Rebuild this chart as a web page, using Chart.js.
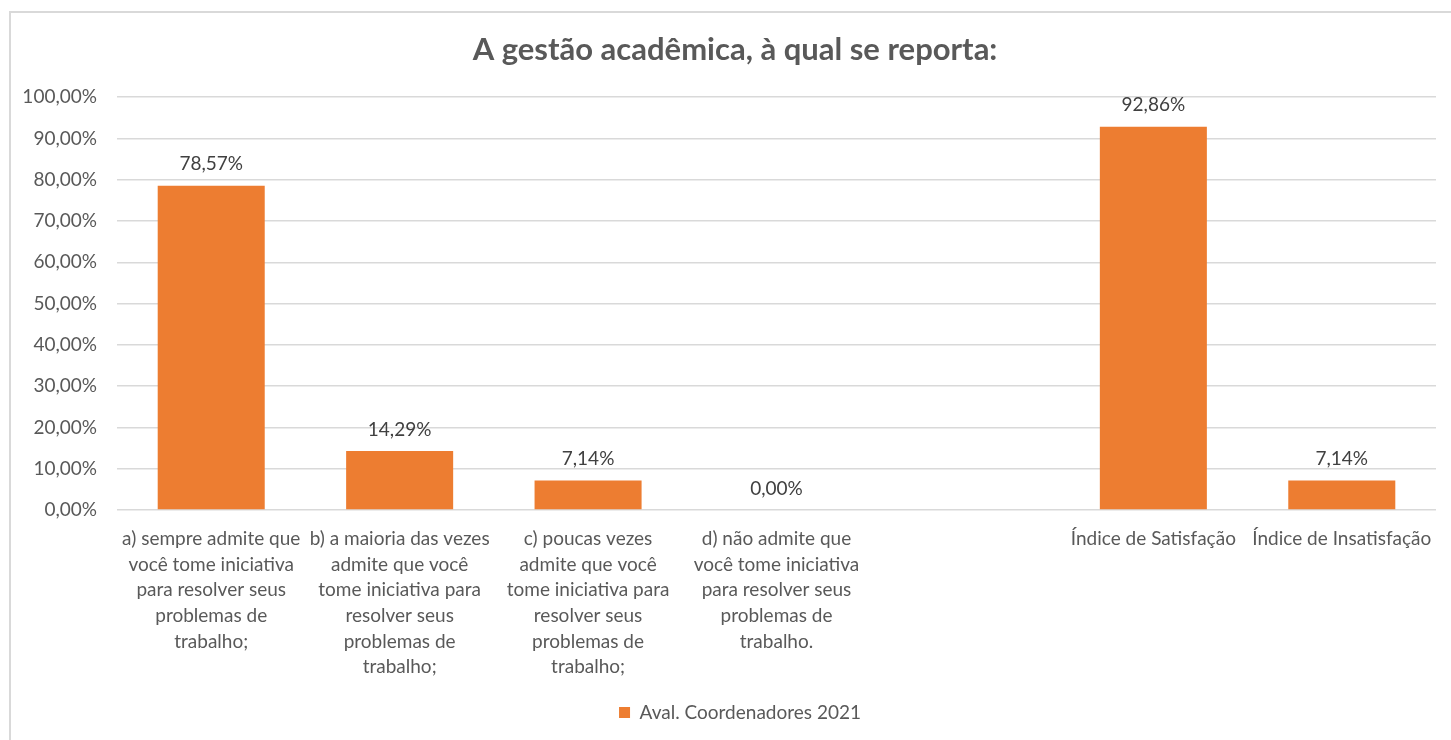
<!DOCTYPE html>
<html lang="pt-BR">
<head>
<meta charset="utf-8">
<title>A gestão acadêmica, à qual se reporta:</title>
<script src="https://cdn.jsdelivr.net/npm/chart.js@4.4.1/dist/chart.umd.min.js"></script>
<style>
    html, body { margin: 0; padding: 0; background: #ffffff; overflow: hidden; }
    #moldura {
        position: absolute; left: 9px; top: 11px; width: 1500px; height: 800px;
        border-left: 2px solid #d9d9d9; border-top: 2px solid #d9d9d9;
    }
    #caixa { position: absolute; left: 0; top: 0; width: 1451px; height: 740px; }
</style>
</head>
<body>
<div id="moldura"></div>
<div id="caixa"><canvas id="graficoBarras"></canvas></div>
<script>
const categorias = [
    ["a) sempre admite que", "você tome iniciativa", "para resolver seus", "problemas de", "trabalho;"],
    ["b) a maioria das vezes", "admite que você", "tome iniciativa para", "resolver seus", "problemas de", "trabalho;"],
    ["c) poucas vezes", "admite que você", "tome iniciativa para", "resolver seus", "problemas de", "trabalho;"],
    ["d) não admite que", "você tome iniciativa", "para resolver seus", "problemas de", "trabalho."],
    "",
    "Índice de Satisfação",
    "Índice de Insatisfação",
];
const valores = [78.57, 14.29, 7.14, 0.0, null, 92.86, 7.14];
const nomeSerie = "Aval. Coordenadores 2021";
const ticksY = [0, 10, 20, 30, 40, 50, 60, 70, 80, 90, 100];

const fonte = "Lato, 'Noto Sans', sans-serif";
const corTexto = "#595959";

function formatarPct(v) {
    return v.toFixed(2).replace(".", ",") + "%";
}

// rotulos em cima das barras
const rotulosBarras = {
    id: "rotulosBarras",
    afterLayout(chart) {
        // titulo e legenda ficam centrados no quadro todo, nao so na area do grafico
        chart.titleBlock.left += 17;
        chart.titleBlock.right += 17;
        chart.legend.left += 22;
        chart.legend.right += 22;
    },
    afterDatasetsDraw(chart) {
        const ctx = chart.ctx;
        ctx.save();
        ctx.font = "19px " + fonte;
        ctx.fillStyle = "#404040";
        ctx.textAlign = "center";
        ctx.textBaseline = "bottom";
        chart.getDatasetMeta(0).data.forEach((barra, i) => {
            const v = valores[i];
            if (v === null) return;
            ctx.fillText(formatarPct(v), barra.x, barra.y - 12);
        });
        ctx.restore();
    },
};

document.addEventListener("DOMContentLoaded", function () {
    const ctx = document.getElementById("graficoBarras").getContext("2d");

    new Chart(ctx, {
        type: "bar",
        data: {
            labels: categorias,
            datasets: [
                {
                    label: nomeSerie,
                    data: valores,
                    backgroundColor: "#ed7d31",
                    categoryPercentage: 1,
                    barPercentage: 0.568,
                },
            ],
        },
        options: {
            responsive: true,
            maintainAspectRatio: false,
            animation: false,
            layout: { padding: { left: 0, right: 15, top: 0, bottom: 8 } },
            plugins: {
                title: {
                    display: true,
                    text: "A gestão acadêmica, à qual se reporta:",
                    color: corTexto,
                    font: { family: fonte, size: 31, weight: "bold" },
                    padding: { top: 31, bottom: 29 },
                },
                legend: {
                    position: "bottom",
                    labels: {
                        color: corTexto,
                        font: { family: fonte, size: 19 },
                        boxWidth: 11,
                        boxHeight: 11,
                        padding: 10,
                    },
                },
                tooltip: { enabled: false },
            },
            scales: {
                x: {
                    grid: { display: false },
                    border: { display: false },
                    ticks: {
                        color: corTexto,
                        font: { family: fonte, size: 19, lineHeight: 1.35 },
                        maxRotation: 0,
                        autoSkip: false,
                        padding: 8,
                    },
                    afterFit(scale) {
                        scale.height = 183;
                    },
                },
                y: {
                    min: 0,
                    max: 100,
                    grid: { color: "#d9d9d9", lineWidth: 1.5, drawTicks: false },
                    border: { display: false },
                    afterBuildTicks(scale) {
                        scale.ticks = ticksY.map((v) => ({ value: v }));
                    },
                    ticks: {
                        color: corTexto,
                        font: { family: fonte, size: 19 },
                        padding: 20,
                        callback: (v) => formatarPct(v),
                    },
                    afterFit(scale) {
                        scale.width = 117;
                    },
                },
            },
        },
        plugins: [rotulosBarras],
    });
});
</script>
</body>
</html>
